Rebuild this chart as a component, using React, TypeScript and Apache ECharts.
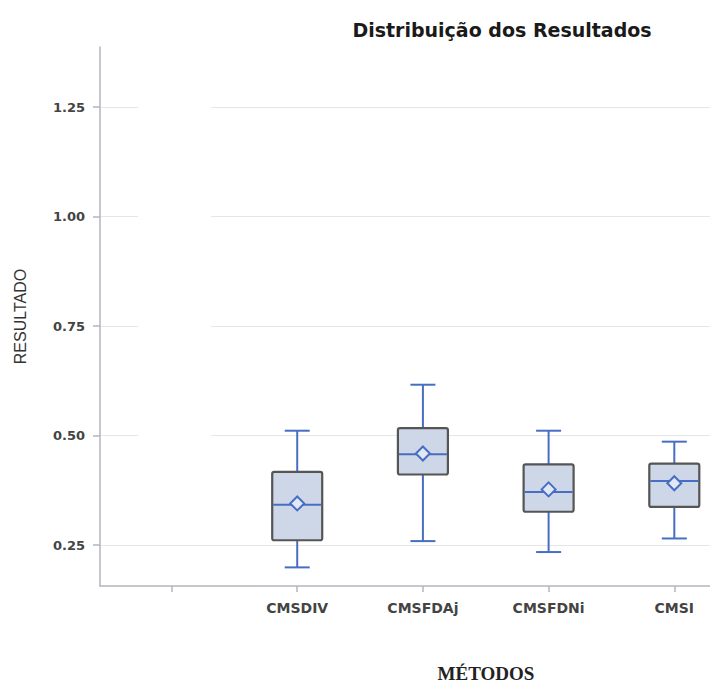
import React, { useEffect, useRef } from "react";
import * as echarts from "echarts";

const categories = ["CMSDIV", "CMSFDAj", "CMSFDNi", "CMSI"];
const catPositions = [1, 2, 3, 4];
const whiskerLow = [0.199, 0.259, 0.234, 0.265];
const q1 = [0.261, 0.411, 0.326, 0.337];
const median = [0.342, 0.457, 0.371, 0.396];
const q3 = [0.417, 0.517, 0.434, 0.436];
const whiskerHigh = [0.511, 0.616, 0.511, 0.486];
const mean = [0.345, 0.459, 0.377, 0.391];
const yTicks = [0.25, 0.5, 0.75, 1.0, 1.25];

const BLUE = "#486ec3";
const AXIS = "#b2b6bb";

export default function App() {
  const ref = useRef<HTMLDivElement>(null);
  useEffect(() => {
    if (!ref.current) return;
    const chart = echarts.init(ref.current, null, { renderer: "svg" });
    const data = catPositions.map((p, i) => [
      p,
      whiskerLow[i],
      q1[i],
      median[i],
      q3[i],
      whiskerHigh[i],
      mean[i],
    ]);
    const renderItem = (params: any, api: any) => {
      const x = api.value(0);
      const pt = (v: number) => api.coord([x, v]);
      const [cx, yLow] = pt(api.value(1));
      const yQ1 = pt(api.value(2))[1];
      const yMed = pt(api.value(3))[1];
      const yQ3 = pt(api.value(4))[1];
      const yHigh = pt(api.value(5))[1];
      const yMean = pt(api.value(6))[1];
      const bw = 50;
      const cw = 25;
      const lineStyle = { stroke: BLUE, lineWidth: 2 };
      return {
        type: "group",
        children: [
          { type: "line", shape: { x1: cx, y1: yQ3, x2: cx, y2: yHigh }, style: lineStyle },
          { type: "line", shape: { x1: cx - cw / 2, y1: yHigh, x2: cx + cw / 2, y2: yHigh }, style: lineStyle },
          { type: "line", shape: { x1: cx, y1: yQ1, x2: cx, y2: yLow }, style: lineStyle },
          { type: "line", shape: { x1: cx - cw / 2, y1: yLow, x2: cx + cw / 2, y2: yLow }, style: lineStyle },
          {
            type: "rect",
            shape: { x: cx - bw / 2, y: yQ3, width: bw, height: yQ1 - yQ3, r: 2 },
            style: { fill: "#cdd7e7", stroke: "#555555", lineWidth: 2.2 },
          },
          { type: "line", shape: { x1: cx - bw / 2 + 1, y1: yMed, x2: cx + bw / 2 - 1, y2: yMed }, style: lineStyle },
          {
            type: "polygon",
            shape: {
              points: [
                [cx, yMean - 7],
                [cx + 7, yMean],
                [cx, yMean + 7],
                [cx - 7, yMean],
              ],
            },
            style: { fill: "#e2e8f3", stroke: BLUE, lineWidth: 2 },
          },
        ],
      };
    };
    chart.setOption({
      animation: false,
      title: {
        text: "Distribuição dos Resultados",
        left: 497,
        top: 15,
        textAlign: "center",
        textStyle: {
          fontFamily: "DejaVu Sans",
          fontWeight: "bold",
          fontSize: 19,
          color: "#1a1a1a",
        },
      },
      grid: { left: 100, right: 0, top: 47, bottom: 96 },
      xAxis: {
        type: "value",
        min: -0.569,
        max: 4.284,
        axisLine: { show: true, onZero: false, lineStyle: { color: AXIS, width: 1.5 } },
        axisTick: {
          show: true,
          length: 6,
          customValues: [0, 1, 2, 3, 4],
          lineStyle: { color: AXIS, width: 1.5 },
        },
        axisLabel: {
          customValues: catPositions,
          formatter: (v: number) => categories[Math.round(v) - 1] ?? "",
          margin: 15,
          fontFamily: "DejaVu Sans",
          fontWeight: "bold",
          fontSize: 14,
          color: "#444",
        },
        splitLine: { show: false },
      },
      yAxis: {
        type: "value",
        min: 0.1565,
        max: 1.387,
        name: "RESULTADO",
        nameLocation: "middle",
        nameRotate: 90,
        nameGap: 72,
        nameTextStyle: {
          fontFamily: "Liberation Sans",
          fontSize: 16,
          color: "#333",
        },
        axisLine: { show: true, onZero: false, lineStyle: { color: AXIS, width: 1.5 } },
        axisTick: {
          show: true,
          length: 7,
          customValues: yTicks,
          lineStyle: { color: AXIS, width: 1.5 },
        },
        axisLabel: {
          customValues: yTicks,
          formatter: (v: number) => v.toFixed(2),
          margin: 15,
          fontFamily: "DejaVu Sans",
          fontWeight: "bold",
          fontSize: 13,
          color: "#444",
        },
        splitLine: { show: true, lineStyle: { color: "#e6e6e6", width: 1.2 } },
      },
      graphic: [
        {
          type: "rect",
          z: 1,
          shape: { x: 138, y: 50, width: 73, height: 430 },
          style: { fill: "#ffffff" },
        },
        {
          type: "text",
          z: 5,
          x: 486,
          y: 673,
          style: {
            text: "MÉTODOS",
            fontFamily: "Liberation Serif",
            fontWeight: "bold",
            fontSize: 19,
            fill: "#222",
            align: "center",
            verticalAlign: "middle",
          },
        },
      ],
      series: [
        {
          type: "custom",
          z: 3,
          renderItem,
          encode: { x: 0, y: [1, 2, 3, 4, 5, 6] },
          data,
        },
      ],
    });
    return () => chart.dispose();
  }, []);
  return (
    <div
      ref={ref}
      style={{ position: "fixed", left: 0, top: 0, width: 710, height: 682, background: "#fff" }}
    />
  );
}
